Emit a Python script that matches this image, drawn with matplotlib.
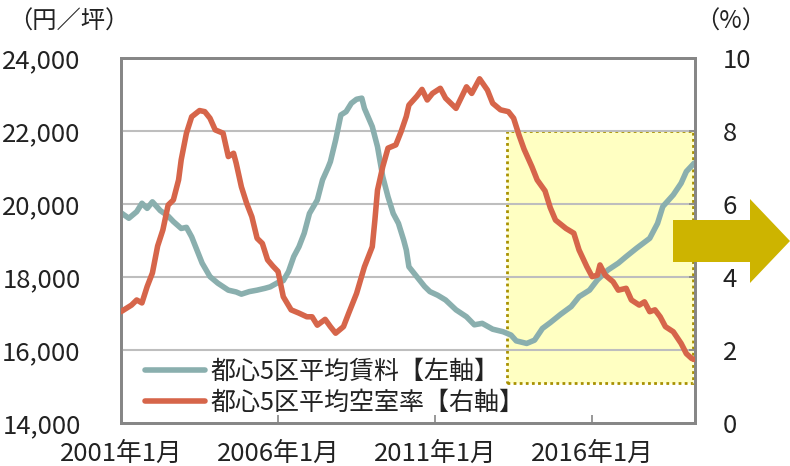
import numpy as np
import matplotlib
matplotlib.use("Agg")
import matplotlib.pyplot as plt
from matplotlib.patches import Rectangle, Polygon

plt.rcParams['font.family'] = ['Noto Sans CJK JP', 'DejaVu Sans']

# months counted from 2001年1月
rent_month = [0, 3, 6, 8, 10, 12, 15, 18, 20, 23, 25, 27, 29, 31, 34, 37, 41, 44, 46, 49,
              52, 55, 57, 60, 62, 64, 66, 68, 70, 72, 75, 77, 79, 80, 82, 84, 86, 88, 90, 92,
              93, 96, 98, 100, 102, 104, 106, 108, 109, 110, 113, 116, 118, 121, 124, 128, 132,
              135, 138, 142, 146, 149, 151, 155, 158, 161, 164, 168, 172, 175, 179, 182, 186,
              190, 193, 197, 202, 205, 207, 211, 214, 216, 219]
rent = [19760, 19610, 19790, 20020, 19880, 20060, 19820, 19670, 19520, 19330, 19360, 19100,
        18740, 18380, 18010, 17830, 17640, 17590, 17530, 17600, 17640, 17690, 17730, 17850,
        17900, 18150, 18560, 18830, 19200, 19740, 20110, 20660, 20980, 21160, 21750, 22440,
        22530, 22760, 22870, 22900, 22620, 22120, 21570, 20750, 20200, 19740, 19470, 19010,
        18740, 18280, 18010, 17740, 17600, 17500, 17370, 17100, 16910, 16690, 16730, 16570,
        16500, 16410, 16250, 16180, 16270, 16590, 16750, 16980, 17190, 17460, 17640, 17920,
        18190, 18380, 18560, 18790, 19060, 19470, 19930, 20250, 20570, 20890, 21120]

vac_month = [0, 4, 6, 8, 10, 12, 14, 16, 18, 20, 22, 23, 25, 27, 30, 32, 34, 36, 39, 41, 43,
             44, 46, 48, 50, 52, 54, 56, 58, 60, 62, 65, 68, 71, 73, 75, 78, 80, 82, 85, 87,
             90, 93, 96, 97, 98, 100, 102, 105, 107, 109, 110, 113, 115, 117, 119, 122, 124,
             128, 132, 134, 137, 140, 142, 145, 148, 150, 152, 154, 157, 159, 162, 164, 166,
             170, 173, 175, 178, 180, 182, 183, 185, 188, 190, 193, 195, 198, 200, 202, 204,
             206, 208, 211, 214, 216, 218, 219]
vacancy = [3.05, 3.23, 3.37, 3.29, 3.74, 4.11, 4.85, 5.29, 5.97, 6.11, 6.66, 7.21, 7.94, 8.39,
           8.56, 8.53, 8.35, 8.03, 7.94, 7.30, 7.39, 7.12, 6.47, 6.02, 5.65, 5.06, 4.92, 4.47,
           4.30, 4.15, 3.46, 3.10, 3.01, 2.91, 2.91, 2.68, 2.84, 2.64, 2.46, 2.64, 3.01, 3.55,
           4.28, 4.83, 5.56, 6.38, 7.02, 7.53, 7.62, 7.98, 8.40, 8.71, 8.95, 9.14, 8.85, 9.03,
           9.17, 8.90, 8.62, 9.21, 9.03, 9.43, 9.12, 8.76, 8.58, 8.53, 8.35, 7.90, 7.50, 7.02,
           6.66, 6.36, 5.90, 5.56, 5.33, 5.20, 4.74, 4.28, 4.01, 4.05, 4.33, 4.05, 3.87, 3.64,
           3.69, 3.37, 3.23, 3.32, 3.05, 3.10, 2.91, 2.64, 2.50, 2.18, 1.90, 1.77, 1.74]

xtick_month = [0, 60, 120, 180]
xtick_labels = ['2001年1月', '2006年1月', '2011年1月', '2016年1月']
rent_ticks = [14000, 16000, 18000, 20000, 22000, 24000]
vac_ticks = [0, 2, 4, 6, 8, 10]

# highlighted period (months, % range)
hl_start, hl_end = 147.4, 218.6
hl_low, hl_high = 1.1, 8.0

teal = '#8AAFAE'
orange = '#D6654A'
spine_c = '#868686'
grid_c = '#BEBEBE'
text_c = '#222222'

fig = plt.figure(figsize=(7.9, 4.66), dpi=100)
ax1 = fig.add_axes([121 / 790, 1 - 423 / 466, 574 / 790, 365 / 466])
ax2 = ax1.twinx()

ax1.set_xlim(0, 219.3)
ax1.set_ylim(14000, 24000)
ax2.set_ylim(0, 10)

# yellow highlight box, under the grid
ax2.add_patch(Rectangle((hl_start, hl_low), hl_end - hl_start, hl_high - hl_low,
                        facecolor='#FFFFC2', edgecolor='#A89000', lw=2,
                        linestyle=(0, (1, 1.2)), zorder=0.5))
for v in rent_ticks[1:-1]:
    ax2.axhline((v - 14000) / 1000, color=grid_c, lw=1.5, zorder=0.8)

ax2.plot(rent_month, [(r - 14000) / 1000 for r in rent], color=teal, lw=4,
         solid_capstyle='round', solid_joinstyle='round', zorder=2,
         label='都心5区平均賃料【左軸】')
ax2.plot(vac_month, vacancy, color=orange, lw=4,
         solid_capstyle='round', solid_joinstyle='round', zorder=3,
         label='都心5区平均空室率【右軸】')

ax1.set_xticks(xtick_month)
ax1.set_xticklabels(xtick_labels)
ax1.set_yticks(rent_ticks)
ax1.set_yticklabels([f'{v:,}' for v in rent_ticks])
ax2.set_yticks(vac_ticks)
ax2.set_yticklabels([str(v) for v in vac_ticks])

ax1.tick_params(axis='x', direction='in', length=6, width=1.2, color=spine_c,
                labelsize=18.5, pad=13, labelcolor=text_c)
ax1.tick_params(axis='y', length=0, labelsize=18.5, pad=29, labelcolor=text_c)
ax2.tick_params(axis='y', direction='in', length=4, width=1.2, color=spine_c,
                labelsize=18.5, pad=20, labelcolor=text_c)
for lab in ax2.get_yticklabels():
    lab.set_horizontalalignment('left')

for ax in (ax1, ax2):
    for s in ax.spines.values():
        s.set_color(spine_c)
        s.set_linewidth(2)

fig.text(8 / 790, 1 - 22 / 466, '（円／坪）', fontsize=17.5, va='center', ha='left', color=text_c)
fig.text(731 / 790, 1 - 22 / 466, '（%）', fontsize=17.5, va='center', ha='center', color=text_c)

leg = ax2.legend(loc='lower left', bbox_to_anchor=(145 / 790, 1 - 416 / 466),
                 bbox_transform=fig.transFigure, frameon=False, fontsize=18,
                 handlelength=2.4, handletextpad=0.2, labelspacing=0.22,
                 borderaxespad=0, borderpad=0)
for t in leg.get_texts():
    t.set_color(text_c)

# arrow at right
W, H = 790.0, 466.0
pts = [(673, 220), (750, 220), (750, 199), (790, 241), (750, 283), (750, 262), (673, 262)]
arrow = Polygon([(x / W, 1 - y / H) for x, y in pts], closed=True,
                facecolor='#CDB400', edgecolor='none', transform=fig.transFigure,
                clip_on=False, zorder=5)
fig.patches.append(arrow)

fig.savefig('out.png', dpi=100)
